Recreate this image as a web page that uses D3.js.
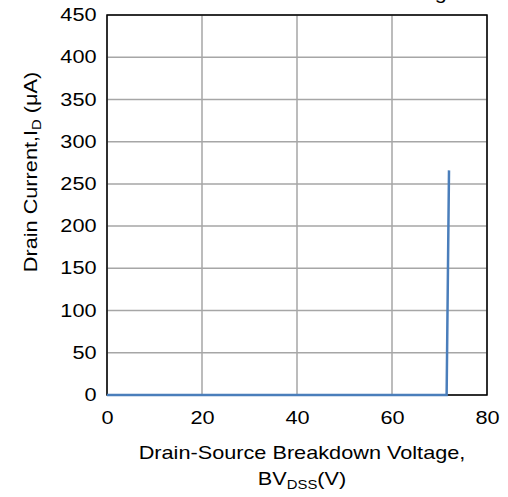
<!DOCTYPE html>
<html>
<head>
<meta charset="utf-8">
<script src="https://cdn.jsdelivr.net/npm/d3@7"></script>
<style>
  body { margin: 0; background: #fff; }
  svg text { font-family: "Liberation Sans", Arial, sans-serif; fill: #000; }
</style>
</head>
<body>
<svg id="chart" width="508" height="497"></svg>
<script>
// datos
const voltaje = [0, 71.5, 72.0];
const corriente = [0, 0, 266];
const xTicks = [0, 20, 40, 60, 80];
const yTicks = [0, 50, 100, 150, 200, 250, 300, 350, 400, 450];

const svg = d3.select("#chart");
const margen = { left: 107, right: 21, top: 15, bottom: 102 };
const ancho = 508 - margen.left - margen.right;
const alto = 497 - margen.top - margen.bottom;
const FS = 17.5;      // tamaño de letra
const ESTIRA = 1.24;  // la letra del original es más ancha

const x = d3.scaleLinear().domain([0, 80]).range([0, ancho]);
const y = d3.scaleLinear().domain([0, 450]).range([alto, 0]);

const g = svg.append("g").attr("transform", `translate(${margen.left},${margen.top})`);

function texto(sel, px, py, ancla, rot) {
  return sel.append("text")
    .attr("transform", `translate(${px},${py})${rot ? " rotate(" + rot + ")" : ""} scale(${ESTIRA},1)`)
    .attr("text-anchor", ancla)
    .style("font-size", FS + "px");
}

// titulo cortado arriba
texto(svg, 459, -1.5, "end").text("Voltage");

// rejilla
g.append("g")
  .selectAll("line")
  .data(yTicks)
  .join("line")
  .attr("x1", 0).attr("x2", ancho)
  .attr("y1", d => y(d)).attr("y2", d => y(d))
  .attr("stroke", "#a6a6a6").attr("stroke-width", 1.5);

g.append("g")
  .selectAll("line")
  .data(xTicks)
  .join("line")
  .attr("x1", d => x(d)).attr("x2", d => x(d))
  .attr("y1", 0).attr("y2", alto)
  .attr("stroke", "#a6a6a6").attr("stroke-width", 1.5);

// ejes
const ejeX = g.append("g")
  .attr("transform", `translate(0,${alto})`)
  .call(d3.axisBottom(x).tickValues(xTicks).tickSize(0).tickPadding(16.5));
ejeX.select(".domain").remove();
ejeX.selectAll("text")
  .style("font-size", FS + "px").attr("fill", "#000")
  .attr("transform", `scale(${ESTIRA},1)`);

const ejeY = g.append("g")
  .call(d3.axisLeft(y).tickValues(yTicks).tickSize(0));
ejeY.select(".domain").remove();
ejeY.selectAll("text")
  .style("font-size", FS + "px").attr("fill", "#000")
  .attr("x", -10.5 / ESTIRA)
  .attr("transform", `scale(${ESTIRA},1)`);

// marco
g.append("rect")
  .attr("x", 0).attr("y", 0)
  .attr("width", ancho).attr("height", alto)
  .attr("fill", "none").attr("stroke", "#000").attr("stroke-width", 1.5);

// curva
const linea = d3.line().x((d, i) => x(voltaje[i])).y(d => y(d));
g.append("path")
  .datum(corriente)
  .attr("d", linea)
  .attr("fill", "none")
  .attr("stroke", "#4a7ebb")
  .attr("stroke-width", 2.5);

// titulos de ejes
texto(svg, 302, 459, "middle").text("Drain-Source Breakdown Voltage,");

const t2 = texto(svg, 302, 485, "middle");
t2.append("tspan").text("BV");
t2.append("tspan").attr("dy", 4).style("font-size", "12px").text("DSS");
t2.append("tspan").attr("dy", -4).text("(V)");

const t3 = texto(svg, 37, 172, "middle", -90);
t3.append("tspan").text("Drain Current,I");
t3.append("tspan").attr("dy", 4).style("font-size", "12px").text("D");
t3.append("tspan").attr("dy", -4).text(" (μA)");
</script>
</body>
</html>
